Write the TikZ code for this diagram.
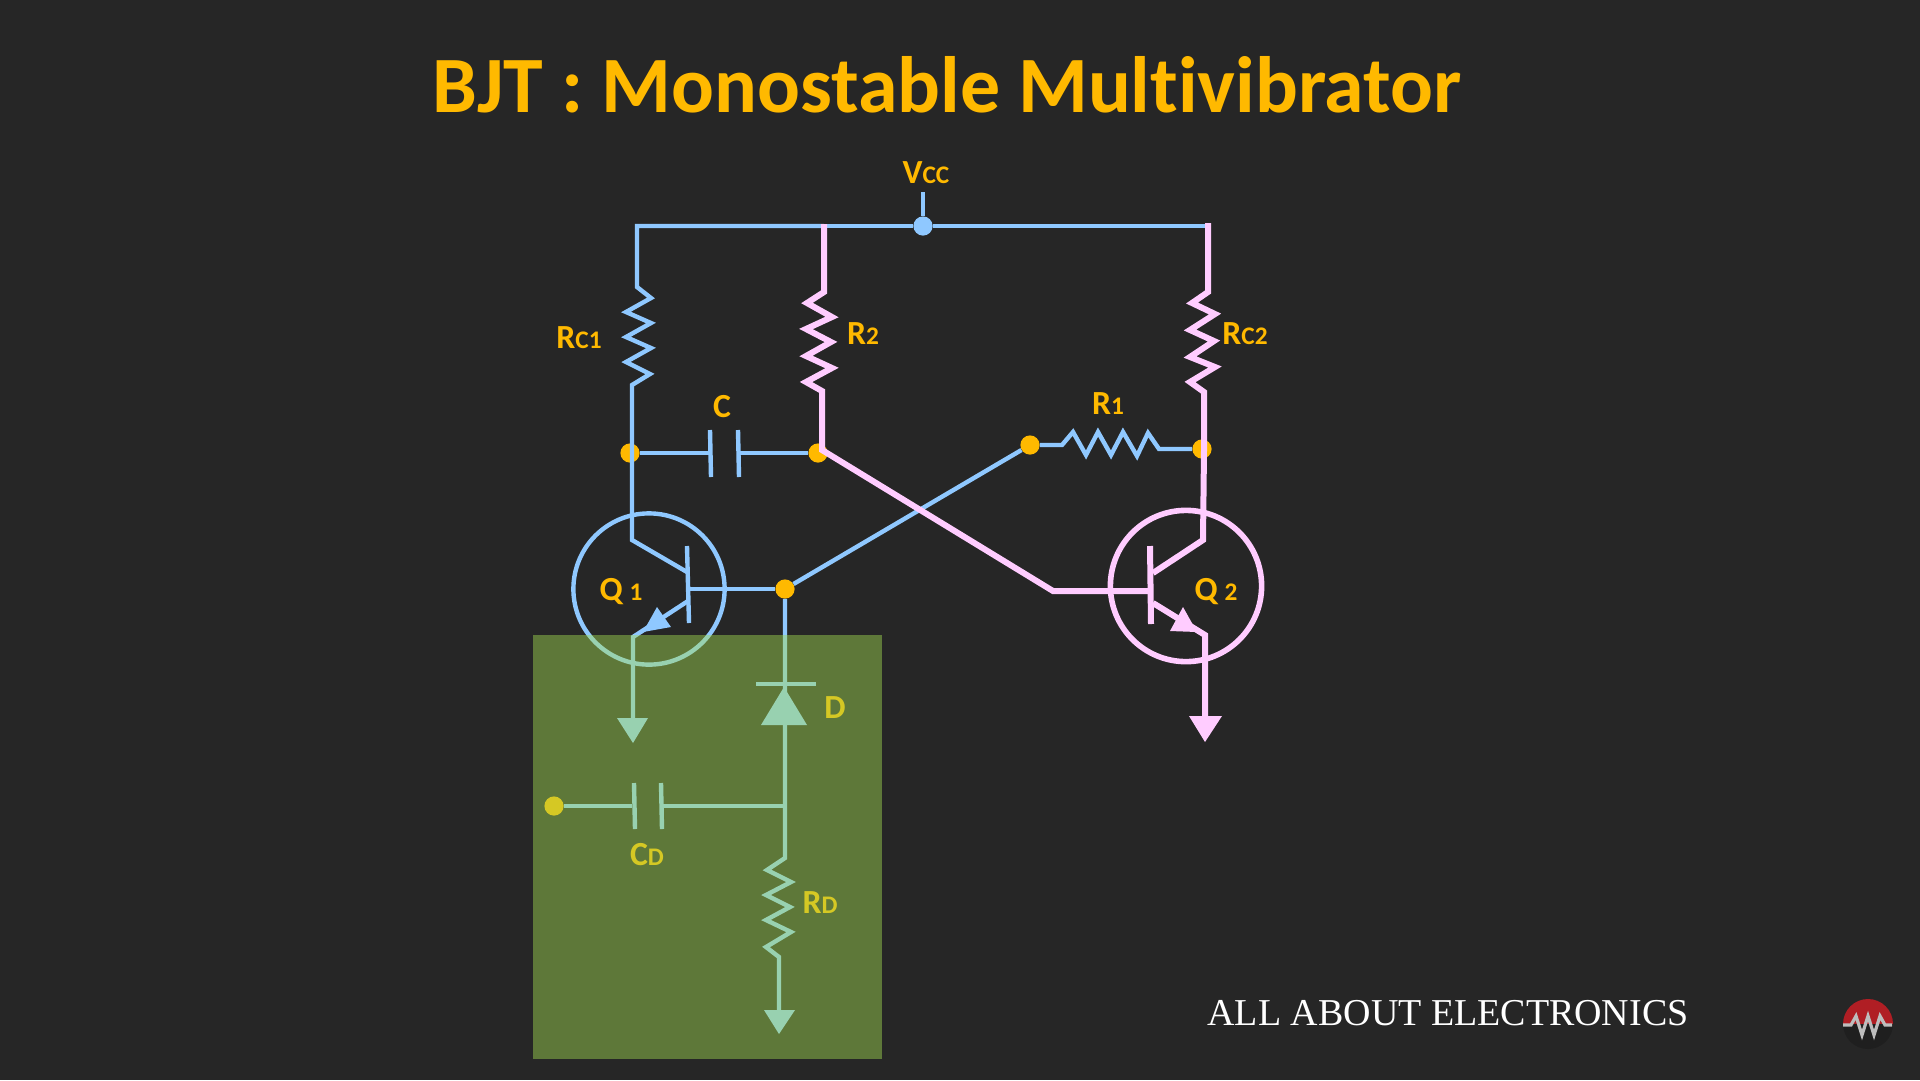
\documentclass[tikz,border=0pt]{standalone}
\usepackage{fontspec}
\setmainfont[Ligatures=NoCommon]{Carlito}
\newfontfamily\brandfont{Liberation Serif}
\usetikzlibrary{positioning, calc}
\definecolor{bgdark}{HTML}{262626}
\definecolor{wireblue}{HTML}{8FC8FF}
\definecolor{wirepink}{HTML}{FFCCFF}
\definecolor{labelorange}{HTML}{FFB900}
\definecolor{overlaygreen}{RGB}{164,220,82}
\definecolor{logored}{HTML}{B01E24}
\definecolor{logodark}{HTML}{1F1F1F}
\definecolor{logogray}{HTML}{BDBDBD}
\newcommand{\lab}[2]{#1{\fontsize{18}{18}\selectfont #2}}
\tikzset{
	bluewire/.style={draw=wireblue, line width=0.11cm},
	pinkwire/.style={draw=wirepink, line width=0.15cm},
	dot/.style={circle, fill=labelorange, inner sep=0pt, minimum size=0.48cm},
	lbl/.style={text=labelorange, inner sep=0pt, font=\fontsize{24}{24}\selectfont\bfseries},
}
\begin{document}
\begin{tikzpicture}[x=0.025cm, y=-0.025cm]
		\useasboundingbox (0,0) rectangle (1920,1080);
		\fill[bgdark] (0,0) rectangle (1920,1080);
		
		%Title
		\node[text=labelorange, inner sep=0pt, font=\fontsize{56.8}{57}\selectfont\bfseries] (title) at (947,85){BJT : Monostable Multivibrator};
		
		%Junctions
		\node[dot] (J1) at (630,453){};
		\node[dot] (J2) at (818,453){};
		\node[dot] (J3) at (785,589){};
		\node[dot] (J4) at (1030,445){};
		\node[dot] (J5) at (1202,449){};
		\node[dot] (J6) at (554,806){};
		\node[circle, fill=wireblue, inner sep=0pt, minimum size=0.48cm] (vcc) at (923,226){};
		\coordinate (vcctop) at (923,192);
		\coordinate (railL) at (637,226);
		\coordinate (railR) at (1208,226);
		\coordinate (railM) at (824,226);
		\coordinate (Q1c) at (632,540);
		\coordinate (Q1e) at (633,637);
		\coordinate (Q2c) at (1203,540);
		\coordinate (Q2e) at (1205,635);
		\coordinate (Q2in) at (1053,591);
		\coordinate (CDjoin) at (785,806);
		
		%Transistors
		\node[circle, draw=wireblue, line width=0.11cm, minimum size=3.78cm] (Q1) at (649,589){};
		\node[circle, draw=wirepink, line width=0.14cm, minimum size=3.78cm] (Q2) at (1186,586){};
		
		%Blue wires
		\draw[bluewire] (vcctop) -- (vcc);
		\draw[bluewire] (railM) -- (railL) -- (637,287) -- (651,298) -- (626,312) -- (651,323) -- (626,337) -- (651,348) -- (626,362) -- (650,374) -- (632,385) -- (632,453) -- (Q1c) -- (687,572);
		\draw[bluewire] (railM) -- (vcc) -- (railR);
		\draw[bluewire] (J1) -- (710,453);
		\draw[bluewire] (710,430) -- (711,477);
		\draw[bluewire] (738,430) -- (739,477);
		\draw[bluewire] (739,453) -- (J2);
		\draw[bluewire] (687,546) -- (689,623);
		\draw[bluewire] (688,589) -- (J3);
		\draw[bluewire] (688,601) -- (Q1e) -- (633,718);
		\fill[wireblue] (643,632) -- (657,607) -- (671,627) -- cycle;
		\fill[wireblue] (617,718) -- (648,718) -- (633,743) -- cycle;
		\draw[bluewire] (J3) -- (J4);
		\draw[bluewire] (J4) -- (1062,445) -- (1073,432) -- (1086,455) -- (1098,432) -- (1111,455) -- (1123,432) -- (1137,456) -- (1148,433) -- (1159,449) -- (J5);
		
		%Diode and pulse input
		\draw[bluewire] (J3) -- (785,858) -- (767,870) -- (791,882) -- (766,895) -- (790,907) -- (766,920) -- (791,932) -- (766,947) -- (779,957) -- (779,1010);
		\draw[bluewire] (756,684) -- (816,684);
		\fill[wireblue] (784,687) -- (761,725) -- (807,725) -- cycle;
		\fill[wireblue] (764,1010) -- (795,1010) -- (779,1034) -- cycle;
		\draw[bluewire] (J6) -- (632,806);
		\draw[bluewire] (634,783) -- (635,829);
		\draw[bluewire] (661,783) -- (662,829);
		\draw[bluewire] (663,806) -- (CDjoin);
		
		%Pink wires
		\draw[pinkwire] (824,224) -- (824,292) -- (807,303) -- (832,317) -- (806,329) -- (831,342) -- (806,356) -- (832,368) -- (806,382) -- (822,391) -- (822,450) -- (Q2in) -- (1148,591);
		\draw[pinkwire] (1208,223) -- (1208,292) -- (1192,303) -- (1215,314) -- (1190,330) -- (1214,341) -- (1190,357) -- (1215,367) -- (1190,382) -- (1204,392) -- (1204,450) -- (Q2c) -- (1153,573);
		\draw[pinkwire] (1150,546) -- (1151,624);
		\draw[pinkwire] (1153,603) -- (Q2e) -- (1205,717);
		\fill[wirepink] (1197,632) -- (1183,607) -- (1170,631) -- cycle;
		\fill[wirepink] (1189,716) -- (1222,716) -- (1205,742) -- cycle;
		
		%Labels
		\node[lbl] (LVcc) at (926,173){\lab{V}{CC}};
		\node[lbl] (LRc1) at (579,338){\lab{R}{C1}};
		\node[lbl] (LR2) at (863,334){\lab{R}{2}};
		\node[lbl] (LC) at (722,407){C};
		\node[lbl] (LRc2) at (1245,334){\lab{R}{C2}};
		\node[lbl] (LR1) at (1108,404){\lab{R}{1}};
		\node[lbl] (LQ1) at (621,592){\lab{Q}{\;1}};
		\node[lbl] (LQ2) at (1216,592){\lab{Q}{\;2}};
		\node[lbl] (LD) at (835,708){D};
		\node[lbl] (LCd) at (647,855){\lab{C}{D}};
		\node[lbl] (LRd) at (820,903){\lab{R}{D}};
		
		%Highlight
		\fill[overlaygreen, fill opacity=0.45] (533,635) rectangle (882,1059);
		
		%Brand
		\node[text=white, inner sep=0pt, font=\brandfont\fontsize{27}{27}\selectfont] (brand) at (1448,1013){ALL ABOUT ELECTRONICS};
		\begin{scope}
			\clip (1868,1024) circle (25);
			\fill[logored] (1840,995) rectangle (1896,1024);
			\fill[logodark] (1840,1024) rectangle (1896,1053);
		\end{scope}
		\draw[logogray, line width=0.08cm] (1843,1025) -- (1851,1025) -- (1856,1016) -- (1862,1035) -- (1868,1016) -- (1874,1035) -- (1880,1016) -- (1885,1025) -- (1892,1025);
\end{tikzpicture}
\end{document}
